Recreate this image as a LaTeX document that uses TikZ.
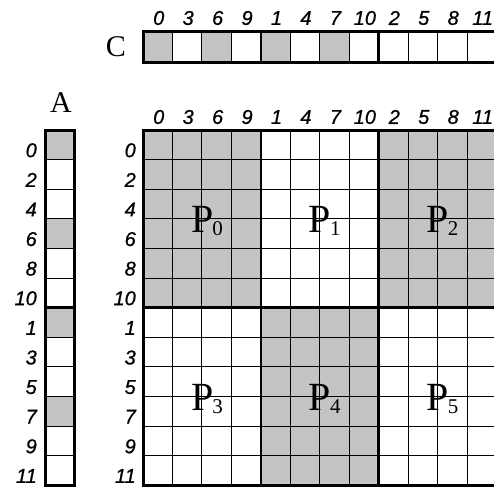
\documentclass[tikz,border=0pt]{standalone}
\usepackage{fontspec}
\setmainfont{Liberation Serif}
\newfontfamily\lblfont[ItalicFeatures={FakeBold=0.8}]{Liberation Sans}
\begin{document}
\begin{tikzpicture}[x=1pt,y=-1pt,
  lbl/.style={font=\lblfont\itshape\fontsize{20}{20}\selectfont, inner sep=0pt},
  big/.style={font=\fontsize{30}{30}\selectfont, inner sep=0pt},
  part/.style={font=\fontsize{40}{40}\selectfont, inner sep=0pt, anchor=base west},
  shade/.style={fill=black!23},
  thinline/.style={line width=0.9pt},
  midline/.style={line width=2.4pt},
  heavy/.style={line width=3pt}]
\def\cw{29.45}\def\ch{29.6}\def\gx{143}\def\gy{130}
\def\gr{496.4}\def\gb{485.2}
\useasboundingbox (0,0) rectangle (494,491);
\clip (0,0) rectangle (494,491);
% ---------- array C ----------
\node[big] (Clbl) at (116,47) {C};
\foreach \c in {0,2,4,6} \fill[shade] ({\gx+\c*\cw},31) rectangle ++(\cw,31);
\foreach \c in {1,2,3,5,6,7,9,10,11} \draw[thinline] ({\gx+\c*\cw},31) -- ++(0,31);
\foreach \c in {4,8} \draw[midline] ({\gx+\c*\cw},31) -- ++(0,31);
\draw[heavy] (\gx,31) rectangle (\gr,62);
% ---------- column labels ----------
\foreach \l [count=\i from 0] in {0,3,6,9,1,4,7,10,2,5,8,11} {
  \node[lbl] (ct\i) at ({\gx+(\i+0.5)*\cw+1},18) {\l};
  \node[lbl] (cl\i) at ({\gx+(\i+0.5)*\cw+1},117) {\l};
}
% ---------- array A ----------
\node[big] (Albl) at (61,103) {A};
\foreach \r in {0,3,6,9} \fill[shade] (45,{\gy+\r*\ch}) rectangle ++(29.5,\ch);
\foreach \r in {1,2,3,4,5,7,8,9,10,11} \draw[thinline] (45,{\gy+\r*\ch}) -- ++(29.5,0);
\draw[midline] (45,{\gy+6*\ch}) -- ++(29.5,0);
\draw[heavy] (45,\gy) rectangle (74.5,\gb);
% ---------- row labels ----------
\foreach \l [count=\i from 0] in {0,2,4,6,8,10,1,3,5,7,9,11} {
  \node[lbl,anchor=east] (ra\i) at (37,{\gy+(\i+0.5)*\ch+5.5}) {\l};
  \node[lbl,anchor=east] (rg\i) at (136,{\gy+(\i+0.5)*\ch+5.5}) {\l};
}
% ---------- main grid ----------
\fill[shade] (\gx,\gy) rectangle ++({4*\cw},{6*\ch});
\fill[shade] ({\gx+8*\cw},\gy) rectangle ++({4*\cw},{6*\ch});
\fill[shade] ({\gx+4*\cw},{\gy+6*\ch}) rectangle ++({4*\cw},{6*\ch});
\foreach \c in {1,2,3,5,6,7,9,10,11} \draw[thinline] ({\gx+\c*\cw},\gy) -- ({\gx+\c*\cw},\gb);
\foreach \r in {1,2,3,4,5,7,8,9,10,11} \draw[thinline] (\gx,{\gy+\r*\ch}) -- (\gr,{\gy+\r*\ch});
\foreach \c in {4,8} \draw[midline] ({\gx+\c*\cw},\gy) -- ({\gx+\c*\cw},\gb);
\draw[midline] (\gx,{\gy+6*\ch}) -- (\gr,{\gy+6*\ch});
\draw[heavy] (\gx,\gy) rectangle (\gr,\gb);
% ---------- partition labels ----------
\foreach \n/\bx/\by in {0/0/0,1/1/0,2/2/0,3/0/1,4/1/1,5/2/1} {
  \node[part] (P\n) at ({\gx+(\bx*4+2)*\cw-11},{\gy+(\by*6+3)*\ch+14})
    {P\kern-1pt\raisebox{-3pt}{\fontsize{21}{21}\selectfont\n}};
}
\end{tikzpicture}
\end{document}
